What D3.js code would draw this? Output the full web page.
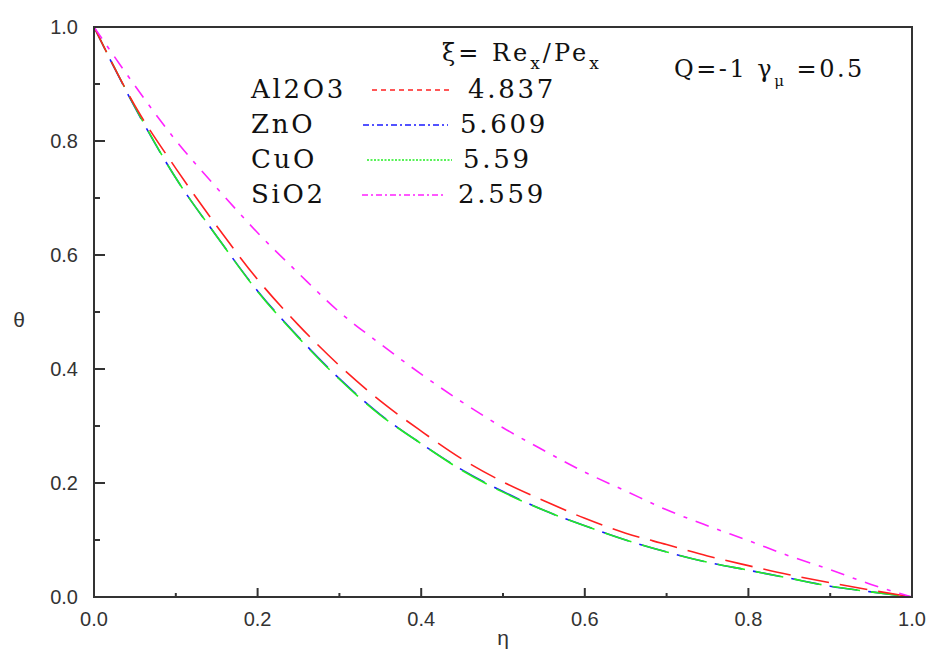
<!DOCTYPE html>
<html>
<head>
<meta charset="utf-8">
<script src="https://cdn.jsdelivr.net/npm/d3@7"></script>
<style>
  body { margin: 0; background: #fff; }
  .tick-label { font-family: "Liberation Sans", Arial, sans-serif; font-size: 20px; fill: #333; }
  .leg { font-family: "DejaVu Serif", serif; font-size: 26px; fill: #111; letter-spacing: 2.7px; }
</style>
</head>
<body>
<div id="chart"></div>
<script>
// eta grid and theta values
var eta = [0, 0.05, 0.1, 0.15, 0.2, 0.25, 0.3, 0.35, 0.4, 0.45, 0.5,
           0.55, 0.6, 0.65, 0.7, 0.75, 0.8, 0.85, 0.9, 0.95, 1.0];
var al2o3 = [1.0, 0.862, 0.752, 0.651, 0.557, 0.477, 0.406, 0.344, 0.291, 0.242, 0.202,
             0.169, 0.138, 0.112, 0.092, 0.072, 0.055, 0.039, 0.025, 0.012, 0];
var zno   = [1.0, 0.859, 0.735, 0.633, 0.537, 0.456, 0.383, 0.320, 0.269, 0.223, 0.185,
             0.152, 0.125, 0.100, 0.079, 0.061, 0.047, 0.033, 0.019, 0.009, 0];
var cuo   = [1.0, 0.860, 0.735, 0.633, 0.536, 0.455, 0.382, 0.319, 0.269, 0.222, 0.184,
             0.152, 0.125, 0.100, 0.079, 0.061, 0.047, 0.033, 0.019, 0.009, 0];
var sio2  = [1.0, 0.897, 0.801, 0.718, 0.639, 0.568, 0.500, 0.444, 0.391, 0.342, 0.297,
             0.257, 0.219, 0.186, 0.153, 0.125, 0.099, 0.072, 0.048, 0.022, 0];

var names  = ["Al2O3", "ZnO", "CuO", "SiO2"];
var xiVals = ["4.837", "5.609", "5.59", "2.559"];
var xTicks = [0, 0.2, 0.4, 0.6, 0.8, 1.0];
var yTicks = [0, 0.2, 0.4, 0.6, 0.8, 1.0];

var series = [
    {name: names[0], vals: al2o3, color: "#ff2020", dash: "28,11", off: 0, legDash: "5,4"},
    {name: names[1], vals: zno,   color: "#1a1aff", dash: "28,11", off: 3, legDash: "6,3,2,3"},
    {name: names[2], vals: cuo,   color: "#22ee22", dash: "28,11", off: 0, legDash: "2,1.5"},
    {name: names[3], vals: sio2,  color: "#ff22ff", dash: "14,9,4,9", off: 0, legDash: "6,3,2,3"}
];

var W = 930, H = 652;
var margin = {left: 94, right: 18, top: 27, bottom: 55};

var x = d3.scaleLinear().domain([0, 1]).range([margin.left, W - margin.right]);
var y = d3.scaleLinear().domain([0, 1]).range([H - margin.bottom, margin.top]);

var svg = d3.select("#chart").append("svg")
    .attr("width", W)
    .attr("height", H);

// curves (ZnO first so CuO sits on top of it)
var line = d3.line()
    .x(function(d) { return x(d[0]); })
    .y(function(d) { return y(d[1]); })
    .curve(d3.curveMonotoneX);

var order = [1, 2, 0, 3];
order.forEach(function(i) {
    var s = series[i];
    svg.append("path")
        .datum(eta.map(function(e, k) { return [e, s.vals[k]]; }))
        .attr("fill", "none")
        .attr("stroke", s.color)
        .attr("stroke-width", 1.6)
        .attr("stroke-dasharray", s.dash)
        .attr("stroke-dashoffset", s.off)
        .attr("d", line);
});

// frame
svg.append("rect")
    .attr("x", x(0)).attr("y", y(1))
    .attr("width", x(1) - x(0)).attr("height", y(0) - y(1))
    .attr("fill", "none")
    .attr("stroke", "#333")
    .attr("stroke-width", 2);

// bottom axis, ticks inward
var xMinor = d3.range(0.1, 1, 0.2);
svg.selectAll(".xmaj").data(xTicks.slice(1, -1)).enter().append("line")
    .attr("x1", function(d) { return x(d); }).attr("x2", function(d) { return x(d); })
    .attr("y1", y(0)).attr("y2", y(0) - 9)
    .attr("stroke", "#333").attr("stroke-width", 2);
svg.selectAll(".xmin").data(xMinor).enter().append("line")
    .attr("x1", function(d) { return x(d); }).attr("x2", function(d) { return x(d); })
    .attr("y1", y(0)).attr("y2", y(0) - 4)
    .attr("stroke", "#333").attr("stroke-width", 2);
svg.selectAll(".xlab").data(xTicks).enter().append("text")
    .attr("class", "tick-label")
    .attr("x", function(d) { return x(d); })
    .attr("y", y(0) + 29)
    .attr("text-anchor", "middle")
    .text(function(d) { return d3.format(".1f")(d); });

// left axis, ticks inward
svg.selectAll(".ymaj").data(yTicks.slice(1, -1)).enter().append("line")
    .attr("x1", x(0)).attr("x2", x(0) + 11)
    .attr("y1", function(d) { return y(d); }).attr("y2", function(d) { return y(d); })
    .attr("stroke", "#333").attr("stroke-width", 2);
svg.selectAll(".ymin").data(xMinor).enter().append("line")
    .attr("x1", x(0)).attr("x2", x(0) + 6)
    .attr("y1", function(d) { return y(d); }).attr("y2", function(d) { return y(d); })
    .attr("stroke", "#333").attr("stroke-width", 2);
svg.selectAll(".ylab").data(yTicks).enter().append("text")
    .attr("class", "tick-label")
    .attr("x", x(0) - 16)
    .attr("y", function(d) { return y(d) + 7; })
    .attr("text-anchor", "end")
    .text(function(d) { return d3.format(".1f")(d); });

// axis titles
svg.append("text")
    .attr("class", "tick-label")
    .attr("x", (x(0) + x(1)) / 2)
    .attr("y", 645)
    .attr("text-anchor", "middle")
    .style("font-size", "21px")
    .text("η");
svg.append("text")
    .attr("class", "tick-label")
    .attr("x", 19)
    .attr("y", 327)
    .attr("text-anchor", "middle")
    .style("font-size", "21px")
    .text("θ");

// legend header
var head = svg.append("text")
    .attr("class", "leg")
    .attr("x", 442)
    .attr("y", 61)
    .style("font-size", "24px")
    .style("letter-spacing", "3px");
head.append("tspan").text("ξ= Re");
head.append("tspan").attr("dy", 8).style("font-size", "17px").text("x");
head.append("tspan").attr("dy", -8).text("/Pe");
head.append("tspan").attr("dy", 8).style("font-size", "17px").text("x");

var qt = svg.append("text")
    .attr("class", "leg")
    .attr("x", 674)
    .attr("y", 77)
    .style("font-size", "24px")
    .style("letter-spacing", "2.5px");
qt.append("tspan").text("Q=-1 γ");
qt.append("tspan").attr("dy", 9).style("font-size", "15px").text("μ");
qt.append("tspan").attr("dy", -9).text(" =0.5");

// legend rows
var rowY = [98, 133, 168, 203];
var legX = [372, 363, 367, 362];
var legX2 = [452, 448, 452, 445];
var valX = [468, 460, 463, 458];

series.forEach(function(s, i) {
    svg.append("text")
        .attr("class", "leg")
        .attr("x", 251)
        .attr("y", rowY[i])
        .text(s.name);
    svg.append("line")
        .attr("x1", legX[i]).attr("x2", legX2[i])
        .attr("y1", rowY[i] - 8).attr("y2", rowY[i] - 8)
        .attr("stroke", s.color)
        .attr("stroke-width", 1.4)
        .attr("stroke-dasharray", s.legDash);
    svg.append("text")
        .attr("class", "leg")
        .attr("x", valX[i])
        .attr("y", rowY[i])
        .text(xiVals[i]);
});
</script>
</body>
</html>
